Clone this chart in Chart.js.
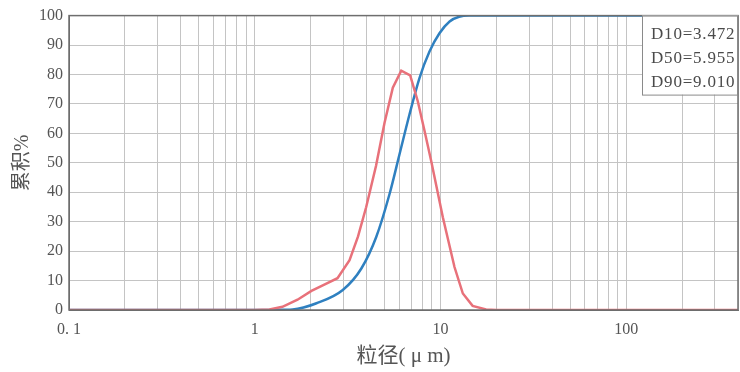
<!DOCTYPE html>
<html>
<head>
<meta charset="utf-8">
<script src="https://cdn.jsdelivr.net/npm/chart.js@4.4.1/dist/chart.umd.min.js"></script>
<style>
  html, body { margin: 0; padding: 0; background: #fff; }
  #wrap { width: 740px; height: 372px; }
</style>
</head>
<body>
<div id="wrap"><canvas id="psdChart" width="740" height="372"></canvas></div>
<script>
// ---- data ----
// differential distribution (red)
const distSizes = [0.1, 0.5, 1.0, 1.2, 1.41, 1.7, 2.02, 2.4, 2.79, 3.24, 3.6, 3.98, 4.5, 5.0, 5.54, 6.15, 6.87, 7.55, 8.2, 8.91, 10.3, 11.9, 13.2, 14.9, 17.6, 20, 50, 400];
const distValues = [0, 0, 0, 0.2, 1.1, 3.5, 6.5, 8.8, 10.8, 16.9, 25, 34.9, 49, 63.6, 75.5, 81.3, 79.7, 70.9, 61, 50.7, 31.5, 14.6, 5.6, 1.4, 0.2, 0, 0, 0];

// cumulative curve (blue)
const cumSizes = [0.1, 1.0, 1.3, 1.6, 2.15, 2.98, 3.75, 4.51, 5.32, 6.02, 6.81, 7.71, 8.73, 9.88, 11.2, 12.6, 14.3, 20, 400];
const cumValues = [0, 0, 0.05, 0.2, 2.3, 6.8, 14.1, 24.8, 39.4, 52.9, 66.4, 78.8, 87.8, 94, 98, 99.6, 100, 100, 100];

// axes
const xGridValues = [0.1, 0.2, 0.3, 0.4, 0.5, 0.6, 0.7, 0.8, 0.9,
                     1, 2, 3, 4, 5, 6, 7, 8, 9,
                     10, 20, 30, 40, 50, 60, 70, 80, 90,
                     100, 200, 300, 400];
const xLabeled = [0.1, 1, 10, 100];
const xLabelText = ['0. 1', '1', '10', '100'];
const yTicks = [0, 10, 20, 30, 40, 50, 60, 70, 80, 90, 100];

// D-values box
const dLines = ['D10=3.472', 'D50=5.955', 'D90=9.010'];

const SERIF = '"Liberation Serif", "Noto Sans CJK SC", serif';

function toPoints(xs, ys) {
    return xs.map((x, i) => ({ x: x, y: ys[i] }));
}

// frame round the plot + the D-value box
const framePlugin = {
    id: 'framePlugin',
    afterDraw(chart) {
        const { ctx, chartArea: a } = chart;
        ctx.save();
        ctx.strokeStyle = '#6e6e6e';
        ctx.lineWidth = 1.5;
        ctx.strokeRect(a.left, a.top, a.right - a.left, a.bottom - a.top);

        // box in the top right corner
        const bx = 642, by = a.top, bw = a.right - 642, bh = 79;
        ctx.fillStyle = '#fff';
        ctx.fillRect(bx, by, bw, bh);
        ctx.strokeStyle = '#8a8a8a';
        ctx.lineWidth = 1;
        ctx.strokeRect(bx + 0.5, by + 0.5, bw - 1, bh);
        ctx.fillStyle = '#4a4a4a';
        ctx.font = '17px ' + SERIF;
        ctx.letterSpacing = '0.8px';
        ctx.textBaseline = 'middle';
        ctx.textAlign = 'left';
        dLines.forEach((t, i) => ctx.fillText(t, 651, by + 19 + i * 24));
        ctx.restore();
    }
};

new Chart(document.getElementById('psdChart'), {
    type: 'line',
    data: {
        datasets: [
            {
                label: 'dist',
                data: toPoints(distSizes, distValues),
                borderColor: '#e8717a',
                borderWidth: 2.5,
                pointRadius: 0,
                tension: 0,
                fill: false
            },
            {
                label: 'cum',
                data: toPoints(cumSizes, cumValues),
                borderColor: '#2f80c0',
                borderWidth: 2.5,
                pointRadius: 0,
                cubicInterpolationMode: 'monotone',
                fill: false
            }
        ]
    },
    options: {
        responsive: false,
        animation: false,
        layout: { padding: { top: 14, right: 2, left: 0, bottom: 0 } },
        plugins: {
            legend: { display: false },
            tooltip: { enabled: false }
        },
        scales: {
            x: {
                type: 'logarithmic',
                min: 0.1,
                max: 400,
                afterBuildTicks: (scale) => {
                    scale.ticks = xGridValues.map(v => ({ value: v }));
                },
                afterFit: (scale) => {
                    scale.height = 62;
                    scale.paddingLeft = 0;
                    scale.paddingRight = 0;
                },
                ticks: {
                    autoSkip: false,
                    maxRotation: 0,
                    padding: 10,
                    color: '#555',
                    font: { family: SERIF, size: 16 },
                    callback: (v) => {
                        const i = xLabeled.findIndex(t => Math.abs(t - v) < 1e-9);
                        return i >= 0 ? xLabelText[i] : '';
                    }
                },
                grid: { color: '#c4c4c4', lineWidth: 1, drawTicks: false },
                border: { color: '#6e6e6e' },
                title: {
                    display: true,
                    text: '粒径( μ m)',
                    color: '#555',
                    font: { family: SERIF, size: 21 },
                    padding: { top: 2, bottom: 3 }
                }
            },
            y: {
                min: 0,
                max: 100,
                afterBuildTicks: (scale) => {
                    scale.ticks = yTicks.map(v => ({ value: v }));
                },
                afterFit: (scale) => { scale.width = 69; },
                ticks: {
                    padding: 6,
                    color: '#555',
                    font: { family: SERIF, size: 16 }
                },
                grid: { color: '#c4c4c4', lineWidth: 1, drawTicks: false },
                border: { color: '#6e6e6e' },
                title: {
                    display: true,
                    text: '累积%',
                    color: '#555',
                    font: { family: SERIF, size: 20 },
                    padding: { top: 11, bottom: 0 }
                }
            }
        }
    },
    plugins: [framePlugin]
});
</script>
</body>
</html>
